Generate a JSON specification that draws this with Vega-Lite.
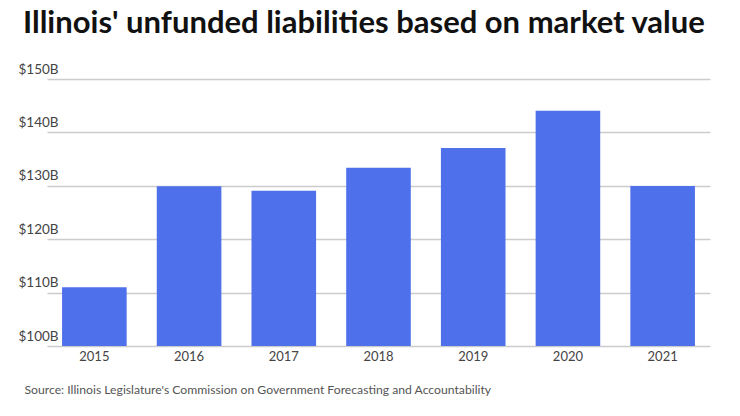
{
  "$schema": "https://vega.github.io/schema/vega-lite/v6.json",
  "width": 694,
  "height": 267,
  "autosize": "none",
  "padding": {"left": 23, "top": 79, "right": 23, "bottom": 70},
  "background": "white",
  "title": {
    "text": "Illinois' unfunded liabilities based on market value",
    "anchor": "start",
    "frame": "group",
    "font": "Lato",
    "fontSize": 31,
    "fontWeight": "bold",
    "color": "#111111",
    "baseline": "alphabetic",
    "offset": -2
  },
  "data": {
    "values": [
      {"year": "2015", "value": 111.0},
      {"year": "2016", "value": 129.9},
      {"year": "2017", "value": 129.05},
      {"year": "2018", "value": 133.4},
      {"year": "2019", "value": 137.1},
      {"year": "2020", "value": 144.05},
      {"year": "2021", "value": 129.95}
    ]
  },
  "mark": {"type": "bar", "color": "#4e70ea"},
  "encoding": {
    "x": {
      "field": "year",
      "type": "ordinal",
      "scale": {"range": [24, 687], "paddingInner": 0.318, "paddingOuter": 0.159},
      "axis": {
        "title": "Source: Illinois Legislature's Commission on Government Forecasting and Accountability",
        "titleFont": "Lato",
        "titleFontSize": 12.2,
        "titleFontWeight": "normal",
        "titleColor": "#555555",
        "titleAnchor": "start",
        "titleAlign": "left",
        "titleBaseline": "alphabetic",
        "titleX": 1,
        "titleY": 47,
        "labelAngle": 0,
        "labelFont": "Lato",
        "labelFontSize": 13,
        "labelColor": "#444444",
        "labelPadding": 4,
        "ticks": false,
        "domain": false
      }
    },
    "y": {
      "field": "value",
      "type": "quantitative",
      "scale": {"domain": [100, 150], "zero": false, "nice": false},
      "axis": {
        "title": null,
        "values": [100, 110, 120, 130, 140, 150],
        "labelExpr": "'$' + datum.value + 'B'",
        "labelAlign": "left",
        "labelBaseline": "alphabetic",
        "labelOffset": -6,
        "labelPadding": 5,
        "labelFont": "Lato",
        "labelFontSize": 13.5,
        "labelColor": "#444444",
        "ticks": false,
        "domain": false,
        "grid": true,
        "gridColor": "#cccccc",
        "gridWidth": 1.3
      }
    },
    "y2": {"datum": 100}
  },
  "config": {"view": {"stroke": null}}
}
